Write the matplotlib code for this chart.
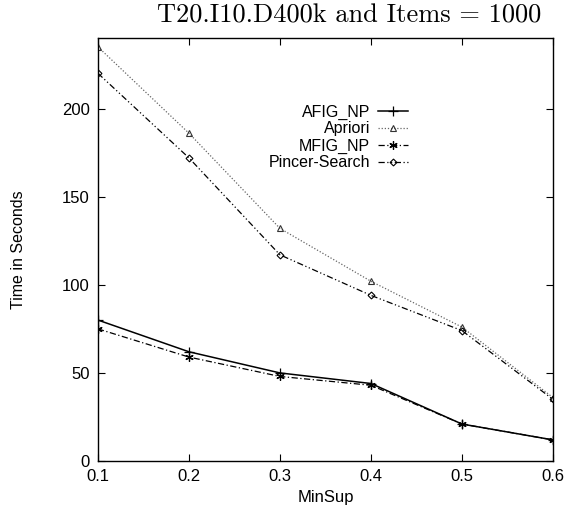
import matplotlib
matplotlib.use('Agg')
import matplotlib.pyplot as plt
from matplotlib import rcParams

rcParams['font.family'] = ['Liberation Sans', 'DejaVu Sans']

minsup = [0.1, 0.2, 0.3, 0.4, 0.5, 0.6]
afig_np = [80, 62, 50, 44, 21, 12]
apriori = [235, 186, 132, 102, 76, 36]
mfig_np = [75, 59, 48, 43, 21, 12]
pincer = [220, 172, 117, 94, 74, 35]

fig = plt.figure(figsize=(5.66, 5.14), dpi=100)
ax = fig.add_axes([0.173, 0.103, 0.804, 0.823])

ax.plot(minsup, afig_np, color='black', lw=1.1, ls='-', marker='+', ms=7,
        mew=0.9, label='AFIG_NP')
ax.plot(minsup, apriori, color='#666666', lw=0.9, ls=(0, (1, 1.5)), marker='^',
        ms=5, mfc='none', mec='#333333', mew=0.8, label='Apriori')
ax.plot(minsup, mfig_np, color='black', lw=0.9, ls=(0, (5, 2, 1, 2)),
        marker=(6, 2, 0), ms=6, mew=0.9, label='MFIG_NP')
ax.plot(minsup, pincer, color='black', lw=0.9, ls=(0, (5, 2, 1, 2, 1, 2)),
        marker='D', ms=3.5, mfc='none', mew=0.8, label='Pincer-Search')

ax.set_xlim(0.1, 0.6)
ax.set_ylim(0, 240)
ax.set_xticks(minsup)
ax.set_xticklabels(['0.1', '0.2', '0.3', '0.4', '0.5', '0.6'])
ax.set_yticks([0, 50, 100, 150, 200])
ax.tick_params(direction='in', top=True, right=True, length=5, width=0.8,
               labelsize=12, pad=6)
for s in ax.spines.values():
    s.set_linewidth(1.0)

ax.set_xlabel('MinSup', fontsize=12, labelpad=4)
ax.set_ylabel('Time in Seconds', fontsize=11.5, labelpad=26)
ax.set_title('T20.I10.D400k and Items = 1000', fontfamily='cmr10',
             fontsize=19, x=0.552, pad=11)

ax.legend(loc='upper right', bbox_to_anchor=(0.70, 0.862), frameon=False,
          markerfirst=False, fontsize=11.5, handlelength=1.9, handletextpad=0.5,
          labelspacing=0.12, borderpad=0, numpoints=1)

fig.savefig('out.png', dpi=100)
